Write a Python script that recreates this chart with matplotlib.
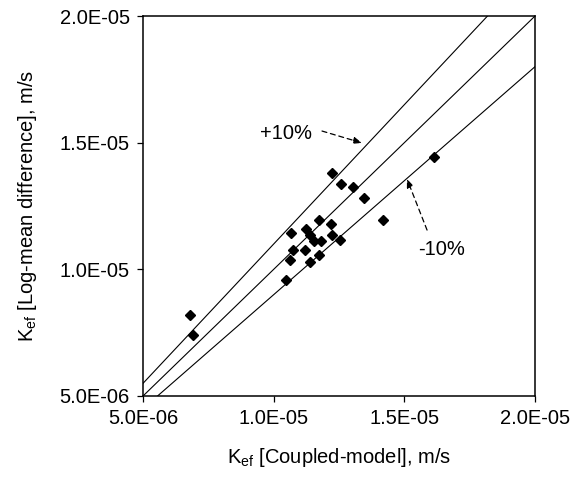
"""Parity plot of the effective coefficient: coupled model against log-mean difference.

Diamonds are the paired estimates; the three lines are the 1:1 line and the +/-10% bands.

Figure: ``out.png``.
"""

import matplotlib.pyplot as plt
import numpy as np
from matplotlib.ticker import FixedLocator, FuncFormatter

# K_ef from the coupled model (x) and from the log-mean difference (y), m/s
K_COUPLED = np.array([
    6.80, 6.91, 16.14, 12.23, 12.58, 13.04, 13.46, 14.18, 11.74, 12.19, 10.66, 11.24,
    11.39, 11.54, 11.81, 12.23, 12.54, 10.74, 11.20, 11.74, 10.63, 11.39, 10.47,
]) * 1e-6
K_LOG_MEAN = np.array([
    8.20, 7.41, 14.44, 13.80, 13.37, 13.25, 12.82, 11.95, 11.95, 11.79, 11.43, 11.59,
    11.36, 11.12, 11.12, 11.36, 11.16, 10.76, 10.76, 10.57, 10.37, 10.29, 9.58,
]) * 1e-6

AXIS_LIMITS = (5e-6, 2e-5)
TICKS = [5e-6, 1e-5, 1.5e-5, 2e-5]
BAND_FACTORS = [1.1, 1.0, 0.9]

FONT_SIZE = 14.5

plt.rcParams["font.family"] = ["Liberation Sans", "DejaVu Sans"]
plt.rcParams["mathtext.default"] = "regular"


def draw_bands(ax: plt.Axes) -> None:
    """The 1:1 line and the +/-10% lines across the whole axis range."""
    x_line = np.array(AXIS_LIMITS)
    for factor in BAND_FACTORS:
        ax.plot(x_line, factor * x_line, color="black", linewidth=0.8, zorder=1)


def label_band(ax: plt.Axes, text: str, text_xy, tail, head) -> None:
    """A band label with a dashed leader arrow pointing at its line."""
    ax.annotate(
        "",
        xy=head,
        xytext=tail,
        arrowprops=dict(
            arrowstyle="-|>,head_length=0.5,head_width=0.2",
            linestyle=(0, (4, 3)),
            color="black",
            linewidth=0.9,
            shrinkA=0,
            shrinkB=0,
            mutation_scale=10,
        ),
    )
    ax.text(*text_xy, text, ha="center", va="center", fontsize=FONT_SIZE)


def main() -> None:
    fig = plt.figure(figsize=(5.8, 4.86), dpi=100)
    ax = fig.add_axes([0.2466, 0.1852, 0.6758, 0.7818])

    draw_bands(ax)
    ax.plot(K_COUPLED, K_LOG_MEAN, linestyle="None", marker="D", markersize=5.6,
            color="black", zorder=3, clip_on=False)

    label_band(ax, "+10%", (10.47e-6, 15.38e-6), (11.85e-6, 15.46e-6), (13.38e-6, 14.99e-6))
    label_band(ax, "-10%", (16.44e-6, 10.80e-6), (15.87e-6, 11.55e-6), (15.10e-6, 13.57e-6))

    ax.set_xlim(*AXIS_LIMITS)
    ax.set_ylim(*AXIS_LIMITS)
    formatter = FuncFormatter(lambda value, _pos: f"{value:.1E}")
    for axis in (ax.xaxis, ax.yaxis):
        axis.set_major_locator(FixedLocator(TICKS))
        axis.set_major_formatter(formatter)
    ax.tick_params(direction="out", length=4.5, width=0.9, labelsize=FONT_SIZE, pad=5)
    for spine in ax.spines.values():
        spine.set_linewidth(1.1)

    ax.set_xlabel("K$_{ef}$ [Coupled-model], m/s", fontsize=FONT_SIZE, labelpad=13)
    ax.set_ylabel("K$_{ef}$ [Log-mean difference], m/s", fontsize=FONT_SIZE, labelpad=15)

    fig.savefig("out.png", dpi=100)
    plt.close(fig)


if __name__ == "__main__":
    main()
